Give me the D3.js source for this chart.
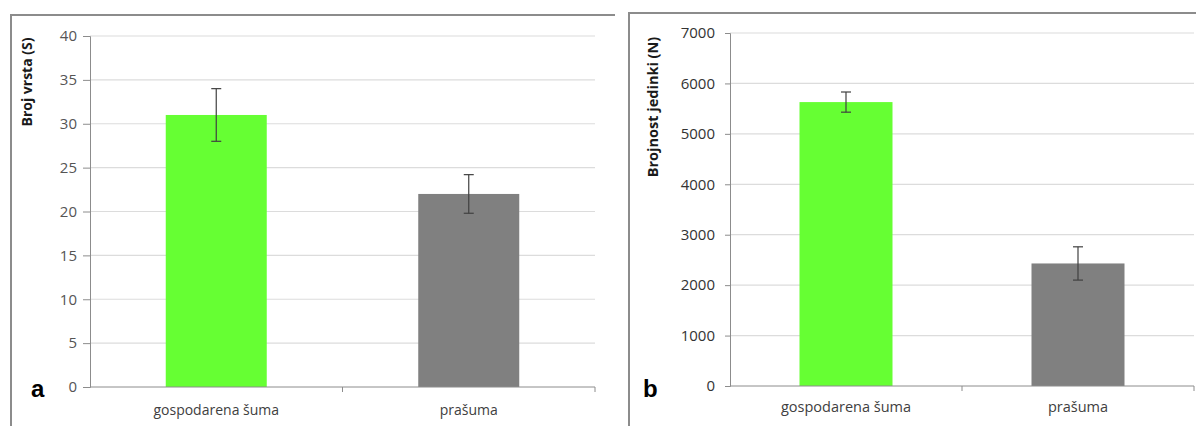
<!DOCTYPE html>
<html>
<head>
<meta charset="utf-8">
<script src="https://cdn.jsdelivr.net/npm/d3@7"></script>
<style>
  body { margin: 0; background: #fff; }
  svg { display: block; }
</style>
</head>
<body>
<svg id="chart" width="1203" height="426"></svg>
<script>
// podaci s grafikona
const categories = ["gospodarena šuma", "prašuma"];
const barColors = ["#66ff33", "#808080"];

const speciesMean = [31, 22];
const speciesErr = [3, 2.2];
const speciesTicks = [0, 5, 10, 15, 20, 25, 30, 35, 40];

const abundanceMean = [5630, 2430];
const abundanceErr = [200, 330];
const abundanceTicks = [0, 1000, 2000, 3000, 4000, 5000, 6000, 7000];

const svg = d3.select("#chart");

function drawPanel(p) {
  const g = svg.append("g");

  // okvir panela (gornja i lijeva linija)
  g.append("path")
    .attr("d", `M${p.frame.x},426 V${p.frame.y} H${p.frame.x2}`)
    .attr("fill", "none")
    .attr("stroke", "#8c8c8c")
    .attr("stroke-width", 2);

  const x = d3.scaleBand().domain(categories).range([p.left, p.right]);
  const y = d3.scaleLinear().domain([0, d3.max(p.ticks)]).range([p.bottom, p.top]);

  // mreža
  g.selectAll("line.grid")
    .data(p.ticks.filter(t => t > 0))
    .join("line")
    .attr("class", "grid")
    .attr("x1", p.left).attr("x2", p.right)
    .attr("y1", d => y(d)).attr("y2", d => y(d))
    .attr("stroke", "#dcdcdc")
    .attr("stroke-width", 1.2);

  // stupci
  g.selectAll("rect.bar")
    .data(categories)
    .join("rect")
    .attr("class", "bar")
    .attr("x", d => x(d) + (x.bandwidth() - p.barW) / 2)
    .attr("width", p.barW)
    .attr("y", (d, i) => y(p.mean[i]))
    .attr("height", (d, i) => y(0) - y(p.mean[i]))
    .attr("fill", (d, i) => barColors[i]);

  // y os
  const yAxis = g.append("g")
    .attr("transform", `translate(${p.left},0)`)
    .call(d3.axisLeft(y).tickValues(p.ticks).tickSize(p.tickLen).tickPadding(p.tickPad).tickFormat(d3.format("d")));
  yAxis.select(".domain").attr("stroke", "#8c8c8c");
  yAxis.selectAll(".tick line").attr("stroke", "#8c8c8c");
  yAxis.selectAll("text")
    .attr("font-family", "Open Sans")
    .attr("font-size", p.tickSize)
    .attr("fill", p.tickColor);

  // x os
  const xAxis = g.append("g")
    .attr("transform", `translate(0,${p.bottom})`)
    .call(d3.axisBottom(x).tickSize(0).tickPadding(p.catPad));
  xAxis.select(".domain").attr("stroke", "#8c8c8c").attr("d", `M${p.left},0H${p.right}`);
  xAxis.selectAll("text")
    .attr("font-family", "Open Sans")
    .attr("font-size", p.catSize)
    .attr("fill", "#404040");
  // crtice između kategorija
  g.selectAll("line.xtick")
    .data(categories)
    .join("line")
    .attr("class", "xtick")
    .attr("x1", d => x(d) + x.bandwidth()).attr("x2", d => x(d) + x.bandwidth())
    .attr("y1", p.bottom).attr("y2", p.bottom + 5)
    .attr("stroke", "#8c8c8c");

  // error bar
  const eb = g.selectAll("g.err")
    .data(categories)
    .join("g")
    .attr("class", "err")
    .attr("transform", d => `translate(${x(d) + x.bandwidth() / 2},0)`);
  eb.append("line")
    .attr("y1", (d, i) => y(p.mean[i] - p.err[i]))
    .attr("y2", (d, i) => y(p.mean[i] + p.err[i]))
    .attr("stroke", "#404040").attr("stroke-width", 1.2);
  [1, -1].forEach(s => {
    eb.append("line")
      .attr("x1", -p.cap).attr("x2", p.cap)
      .attr("y1", (d, i) => y(p.mean[i] + s * p.err[i]))
      .attr("y2", (d, i) => y(p.mean[i] + s * p.err[i]))
      .attr("stroke", "#404040").attr("stroke-width", 1.2);
  });

  // naslov osi
  g.append("text")
    .attr("transform", `translate(${p.labelX},${p.labelY}) rotate(-90)`)
    .attr("text-anchor", "middle")
    .attr("font-family", "Open Sans")
    .attr("font-weight", "bold")
    .attr("font-size", p.labelSize)
    .attr("fill", "#1a1a1a")
    .text(p.label);

  // oznaka panela
  g.append("text")
    .attr("x", p.letterX).attr("y", 397)
    .attr("font-family", "Liberation Sans, Arial")
    .attr("font-weight", "bold")
    .attr("font-size", 24)
    .attr("fill", "#000")
    .text(p.letter);
}

drawPanel({
  frame: { x: 11, y: 15, x2: 615 },
  left: 90, right: 595, top: 36, bottom: 387,
  ticks: speciesTicks, mean: speciesMean, err: speciesErr,
  barW: 101, cap: 5, tickLen: 7, tickPad: 6,
  tickSize: 15, tickColor: "#555", catSize: 14, catPad: 18,
  label: "Broj vrsta (S)", labelX: 32, labelY: 82, labelSize: 14,
  letter: "a", letterX: 31
});

drawPanel({
  frame: { x: 629, y: 13, x2: 1196 },
  left: 730, right: 1194, top: 33, bottom: 386,
  ticks: abundanceTicks, mean: abundanceMean, err: abundanceErr,
  barW: 93, cap: 5, tickLen: 5, tickPad: 10,
  tickSize: 15, tickColor: "#333", catSize: 14.5, catPad: 16,
  label: "Brojnost jedinki (N)", labelX: 658, labelY: 107, labelSize: 14.5,
  letter: "b", letterX: 643
});
</script>
</body>
</html>
